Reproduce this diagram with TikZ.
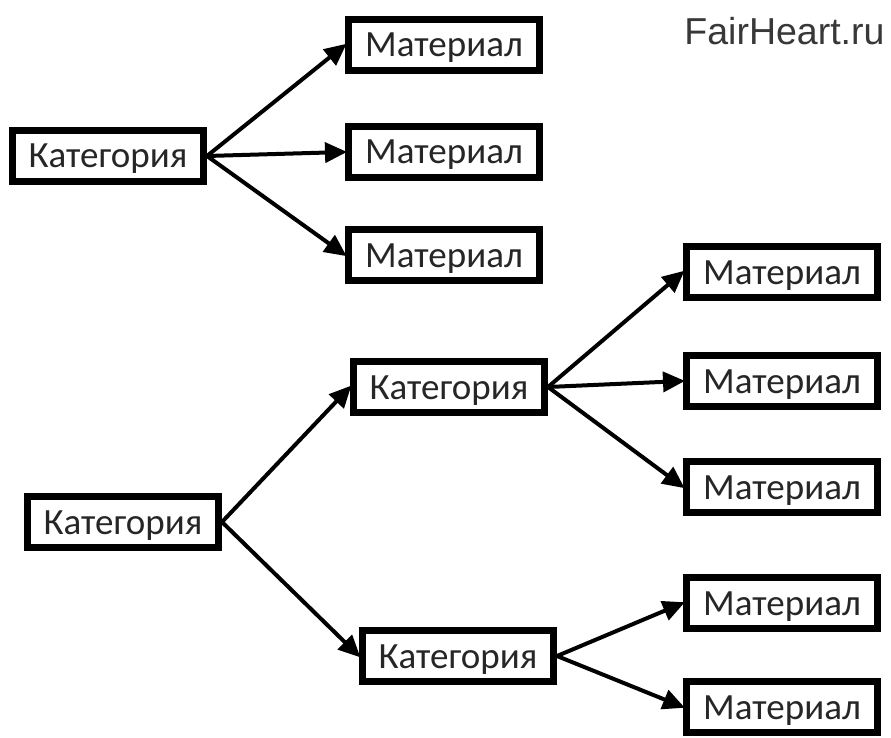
\documentclass[tikz,border=0pt]{standalone}
\usepackage{fontspec}
\setmainfont{Carlito}
\newfontfamily\sitefont{Liberation Sans}
\usetikzlibrary{arrows.meta}
\tikzset{
	itembox/.style={draw, line width=7pt, minimum width=191pt, minimum height=51pt, inner sep=0pt, text=black!85, text height=24pt, text depth=0pt, font=\fontsize{37}{40}\selectfont},
	link/.style={line width=4pt, -{Triangle[length=22pt, width=20pt]}, shorten >=-2pt}
}

\begin{document}
\begin{tikzpicture}[x=1pt, y=-1pt]
		%%%%% START %%%%%
		\useasboundingbox[fill=white] (0, 0) rectangle (891, 738);
		
		\node[text=black!78, font=\sitefont\fontsize{37.5}{40}\selectfont, anchor=east] (site) at (888, 31) {FairHeart.ru};
		
		% first tree
		\node[itembox] (cat1) at (108, 156) {Категория};
		\node[itembox] (mat1) at (444, 45) {Материал};
		\node[itembox] (mat2) at (444, 152) {Материал};
		\node[itembox] (mat3) at (444, 255) {Материал};
		
		\draw[link] (cat1.east) -- (mat1.west);
		\draw[link] (cat1.east) -- (mat2.west);
		\draw[link] (cat1.east) -- (mat3.west);
		
		% second tree
		\node[itembox] (cat2) at (123, 522) {Категория};
		\node[itembox] (cat3) at (449, 387) {Категория};
		\node[itembox] (cat4) at (458, 656) {Категория};
		
		\node[itembox] (mat4) at (782, 272) {Материал};
		\node[itembox] (mat5) at (782, 381) {Материал};
		\node[itembox] (mat6) at (782, 487) {Материал};
		\node[itembox] (mat7) at (782, 603) {Материал};
		\node[itembox] (mat8) at (782, 707) {Материал};
		
		\draw[link] (cat2.east) -- (cat3.west);
		\draw[link] (cat2.east) -- (cat4.west);
		
		\draw[link] (cat3.east) -- (mat4.west);
		\draw[link] (cat3.east) -- (mat5.west);
		\draw[link] (cat3.east) -- (mat6.west);
		
		\draw[link] (cat4.east) -- (mat7.west);
		\draw[link] (cat4.east) -- (mat8.west);
		
		%%%%% END %%%%%
\end{tikzpicture}
\end{document}
